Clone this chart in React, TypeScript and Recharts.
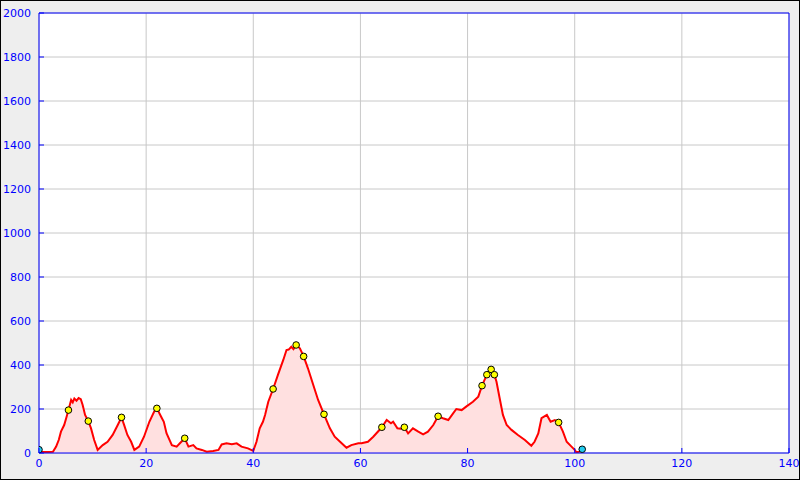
import React from 'react';
import {
  ComposedChart,
  Area,
  Scatter,
  XAxis,
  YAxis,
  CartesianGrid,
  ReferenceLine,
} from 'recharts';

// Distance (km) along the route
const distances: number[] = [
  0, 0.5, 1.5, 2.6, 3.2, 3.7, 4.1, 4.7, 5.1, 5.5, 6.0, 6.3, 6.6, 7.0, 7.4, 7.8, 8.15, 8.6, 9.2, 9.7,
  10.3, 10.95, 11.9, 12.8, 13.75, 14.7, 15.4, 15.9, 16.5, 17.2, 17.8, 18.7, 19.6, 20.6, 21.5, 22.0,
  22.8, 23.3, 23.8, 24.8, 25.7, 26.3, 27.2, 27.9, 28.8, 29.4, 30.4, 31.3, 32.5, 33.5, 34.1, 35.0,
  36.0, 36.9, 37.8, 39.0, 40.0, 40.6, 41.2, 41.8, 42.2, 42.8, 43.7, 44.6, 45.6, 46.2, 46.6, 47.1,
  47.5, 48.0, 48.7, 49.4, 50.2, 51.2, 52.1, 53.2, 54.3, 55.2, 56.2, 57.4, 58.3, 59.6, 60.2, 61.4,
  62.4, 64.0, 64.9, 65.7, 66.1, 66.9, 67.5, 68.2, 68.9, 69.8, 70.8, 71.7, 72.6, 73.6, 74.5, 75.4,
  76.4, 77.3, 77.9, 78.9, 79.8, 81.0, 82.0, 82.7, 83.6, 84.4, 85.0, 85.4, 86.0, 86.6, 87.3, 88.2,
  89.4, 90.7, 91.9, 92.5, 93.2, 93.8, 94.8, 95.5, 96.3, 97.0, 97.8, 98.5, 99.4, 100.0, 100.3, 100.9,
  101.4,
];

// Elevation (m) at each distance
const elevations: number[] = [
  8, 5, 4, 6, 29, 60, 97, 127, 160, 195, 241, 230, 248, 238, 250, 245, 218, 173, 145, 113,
  59, 14, 36, 51, 82, 127, 162, 127, 82, 51, 14, 29, 74, 142, 188, 203,
  165, 142, 90, 36, 29, 44, 67, 29, 36, 21, 14, 6, 9, 14, 39, 44,
  40, 44, 29, 21, 10, 51, 112, 142, 173, 233, 291, 355, 423, 468, 470, 483,
  472, 491, 476, 439, 385, 309, 241, 176, 112, 74, 51, 24, 36, 44, 44, 51,
  74, 117, 150, 135, 142, 112, 110, 117, 89, 112, 97, 85, 97, 127, 167, 158,
  150, 180, 200, 195, 212, 233, 256, 306, 356, 380, 356, 324, 248, 173, 127, 105,
  82, 59, 33, 51, 89, 158, 173, 142, 150, 139, 97, 51, 29, 14, 3, 6,
  17,
];

// Waypoint markers (yellow)
const waypointDist: number[] = [5.5, 9.2, 15.4, 22.0, 27.2, 43.7, 48.0, 49.4, 53.2, 64.0, 68.2, 74.5, 82.7, 83.6, 84.4, 85.0, 97.0];
const waypointElev: number[] = [195, 145, 162, 203, 67, 291, 491, 439, 176, 117, 117, 167, 306, 356, 380, 356, 139];

// Start / end markers (cyan)
const endDist: number[] = [0, 101.4];
const endElev: number[] = [15, 17];

const xTicks: number[] = [0, 20, 40, 60, 80, 100, 120, 140];
const yTicks: number[] = [0, 200, 400, 600, 800, 1000, 1200, 1400, 1600, 1800, 2000];

const profile = distances.map((d, i) => ({ d, e: elevations[i] }));
const waypoints = waypointDist.map((d, i) => ({ d, e: waypointElev[i] }));
const ends = endDist.map((d, i) => ({ d, e: endElev[i] }));

const BLUE = '#0000ff';
const FONT = 'DejaVu Sans, sans-serif';

const YTick = (props: any) => {
  const { x, y, payload } = props;
  return (
    <g>
      <line x1={x} x2={x + 5} y1={y} y2={y} stroke={BLUE} strokeWidth={1} />
      <text x={x - 8} y={y} dy="0.35em" textAnchor="end" fill={BLUE} fontSize={11} fontFamily={FONT}>
        {payload.value}
      </text>
    </g>
  );
};

const XTick = (props: any) => {
  const { x, y, payload } = props;
  return (
    <g>
      <line x1={x} x2={x} y1={y} y2={y - 5} stroke={BLUE} strokeWidth={1} />
      <text x={x} y={y + 14} textAnchor="middle" fill={BLUE} fontSize={11} fontFamily={FONT}>
        {payload.value}
      </text>
    </g>
  );
};

const Dot = (color: string) => (props: any) => {
  const { cx, cy } = props;
  return <circle cx={cx} cy={cy} r={3.3} fill={color} stroke="#000" strokeWidth={1} />;
};

export default function App() {
  return (
    <div style={{ position: 'fixed', left: 0, top: 0, width: 800, height: 480, background: '#eeeeee' }}>
      <ComposedChart
        width={800}
        height={480}
        data={profile}
        margin={{ top: 13, right: 11, bottom: 0, left: 0 }}
      >
        <CartesianGrid stroke="#c8c8c8" strokeWidth={1} fill="#ffffff" fillOpacity={1} />
        <XAxis
          dataKey="d"
          type="number"
          domain={[0, 140]}
          ticks={xTicks}
          interval={0}
          height={27}
          axisLine={{ stroke: BLUE, strokeWidth: 1 }}
          tickLine={false}
          tickSize={0}
          tickMargin={0}
          tick={<XTick />}
          allowDataOverflow
        />
        <YAxis
          dataKey="e"
          type="number"
          domain={[0, 2000]}
          ticks={yTicks}
          interval={0}
          width={39}
          axisLine={{ stroke: BLUE, strokeWidth: 1 }}
          tickLine={false}
          tickSize={0}
          tickMargin={0}
          tick={<YTick />}
          allowDataOverflow
        />
        <Area
          type="linear"
          dataKey="e"
          stroke="#ff0000"
          strokeWidth={2}
          fill="#ffe0e0"
          fillOpacity={1}
          isAnimationActive={false}
          dot={false}
          activeDot={false}
        />
        <ReferenceLine y={2000} stroke={BLUE} strokeWidth={1} />
        <ReferenceLine x={140} stroke={BLUE} strokeWidth={1} />
        <Scatter data={waypoints} dataKey="e" shape={Dot('#ffff00')} isAnimationActive={false} />
        <Scatter data={ends} dataKey="e" shape={Dot('#22ccee')} isAnimationActive={false} />
      </ComposedChart>
      <div
        style={{
          position: 'absolute',
          left: 0,
          top: 0,
          width: 800,
          height: 480,
          boxSizing: 'border-box',
          border: '1px solid #000',
          pointerEvents: 'none',
        }}
      />
    </div>
  );
}
